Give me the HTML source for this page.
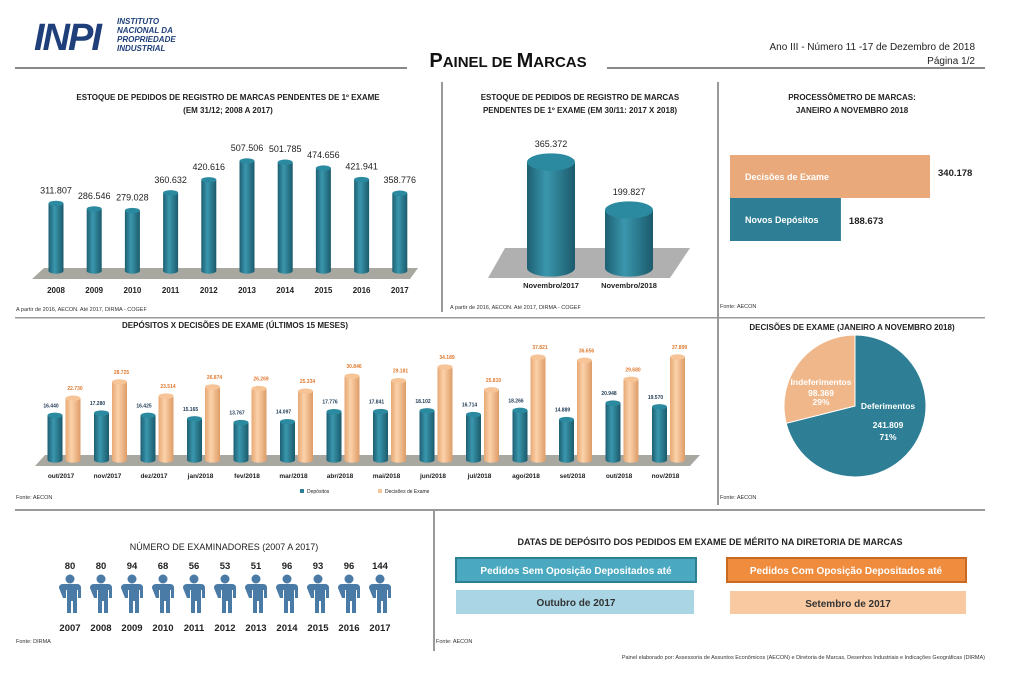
<!DOCTYPE html>
<html><head><meta charset="utf-8"><style>
body{margin:0;background:#fff;width:1024px;height:682px;overflow:hidden;font-family:"Liberation Sans",sans-serif}
svg text{font-family:"Liberation Sans",sans-serif}
</style></head><body>
<svg id="s" width="1024" height="682" viewBox="0 0 1024 682" xmlns="http://www.w3.org/2000/svg">
<defs>
<linearGradient id="gt" x1="0" x2="1"><stop offset="0" stop-color="#1d5f72"/><stop offset="0.4" stop-color="#3a97ad"/><stop offset="1" stop-color="#1b5a6c"/></linearGradient>
<linearGradient id="go" x1="0" x2="1"><stop offset="0" stop-color="#e6a874"/><stop offset="0.4" stop-color="#fcd2aa"/><stop offset="1" stop-color="#dd9c67"/></linearGradient>
</defs>
<!-- header -->
<g>
<text x="34" y="50" font-size="38" font-weight="bold" font-style="italic" fill="#1f3f7a" letter-spacing="-2">INPI</text>
<text x="117" y="24" font-size="8" font-weight="bold" font-style="italic" fill="#1f3f7a">INSTITUTO</text>
<text x="117" y="33" font-size="8" font-weight="bold" font-style="italic" fill="#1f3f7a">NACIONAL DA</text>
<text x="117" y="42" font-size="8" font-weight="bold" font-style="italic" fill="#1f3f7a">PROPRIEDADE</text>
<text x="117" y="51" font-size="8" font-weight="bold" font-style="italic" fill="#1f3f7a">INDUSTRIAL</text>
</g>
<text x="508" y="67" text-anchor="middle" font-size="20" font-weight="bold" fill="#111">P<tspan font-size="15">AINEL DE </tspan>M<tspan font-size="15">ARCAS</tspan></text>
<text x="975" y="50" text-anchor="end" font-size="10" fill="#222">Ano III - Número 11 -17 de Dezembro de 2018</text>
<text x="975" y="64" text-anchor="end" font-size="10" fill="#222">Página 1/2</text>
<rect x="15" y="67" width="392" height="2" fill="#888"/><rect x="607" y="67" width="378" height="2" fill="#888"/>
<!-- dividers -->
<g fill="#999">
<rect x="441" y="82" width="2" height="230"/><rect x="717" y="82" width="2" height="423"/>
<rect x="15" y="317" width="970" height="1.5"/><rect x="15" y="509" width="970" height="2"/>
<rect x="433" y="511" width="2" height="140"/>
</g>
<g font-size="8" font-weight="bold" fill="#222" text-anchor="middle">
<text x="228" y="100">ESTOQUE DE PEDIDOS DE REGISTRO DE MARCAS PENDENTES DE 1º EXAME</text>
<text x="228" y="113">(EM 31/12; 2008 A 2017)</text>
<text x="580" y="100">ESTOQUE DE PEDIDOS DE REGISTRO DE MARCAS</text>
<text x="580" y="113">PENDENTES DE 1º EXAME (EM 30/11: 2017 X 2018)</text>
<text x="852" y="100">PROCESSÔMETRO DE MARCAS:</text>
<text x="852" y="113">JANEIRO A NOVEMBRO 2018</text>
<text x="235" y="328">DEPÓSITOS X DECISÕES DE EXAME (ÚLTIMOS 15 MESES)</text>
<text x="852" y="330">DECISÕES DE EXAME (JANEIRO A NOVEMBRO 2018)</text>
<text x="224" y="550" font-size="9" font-weight="normal">NÚMERO DE EXAMINADORES (2007 A 2017)</text>
<text x="710" y="545" font-size="9">DATAS DE DEPÓSITO DOS PEDIDOS EM EXAME DE MÉRITO NA DIRETORIA DE MARCAS</text>
</g>
<g font-size="5.5" fill="#333">
<text x="16" y="311">A partir de 2016, AECON. Até 2017, DIRMA - COGEF</text>
<text x="450" y="309">A partir de 2016, AECON. Até 2017, DIRMA - COGEF</text>
<text x="720" y="308">Fonte: AECON</text>
<text x="16" y="499">Fonte: AECON</text>
<text x="720" y="499">Fonte: AECON</text>
<text x="16" y="643">Fonte: DIRMA</text>
<text x="436" y="643">Fonte: AECON</text>
<text x="985" y="659" text-anchor="end">Painel elaborado por: Assessoria de Assuntos Econômicos (AECON) e Diretoria de Marcas, Desenhos Industriais e Indicações Geográficas (DIRMA)</text>
</g>
<g id="c1"><polygon points="44,268 418,268 410,279 32,279" fill="#a8a8a0"/></g>
<g id="c2"><polygon points="505,248 690,248 670,278 488,278" fill="#b0b0b0"/></g>
<g id="c3"></g>
<g id="c4"><polygon points="45,455 700,455 690,466 35,466" fill="#a8a8a0"/></g>
<g id="c5"></g>
<g id="c6"></g>
<!-- date boxes -->
<g>
<rect x="456" y="558" width="240" height="24" fill="#4aa9c0" stroke="#2f7f93" stroke-width="2"/>
<text x="576" y="574" text-anchor="middle" font-size="10" font-weight="bold" fill="#fff">Pedidos Sem Oposição Depositados até</text>
<rect x="456" y="590" width="238" height="24" fill="#a9d5e4"/>
<text x="576" y="606" text-anchor="middle" font-size="10" font-weight="bold" fill="#333">Outubro de 2017</text>
<rect x="727" y="558" width="239" height="24" fill="#f08c3e" stroke="#c96a22" stroke-width="2"/>
<text x="846" y="574" text-anchor="middle" font-size="10" font-weight="bold" fill="#fff">Pedidos Com Oposição Depositados até</text>
<rect x="730" y="591" width="236" height="23" fill="#f9caa1"/>
<text x="848" y="607" text-anchor="middle" font-size="10" font-weight="bold" fill="#333">Setembro de 2017</text>
</g>
</svg>
<script>
const stockYears=["2008","2009","2010","2011","2012","2013","2014","2015","2016","2017"];
const stockValues=[311807,286546,279028,360632,420616,507506,501785,474656,421941,358776];
const stockLabels=["311.807","286.546","279.028","360.632","420.616","507.506","501.785","474.656","421.941","358.776"];
const cmpCats=["Novembro/2017","Novembro/2018"];
const cmpValues=[365372,199827];
const cmpLabels=["365.372","199.827"];
const procCats=["Decisões de Exame","Novos Depósitos"];
const procValues=[340178,188673];
const procLabels=["340.178","188.673"];
const months=["out/2017","nov/2017","dez/2017","jan/2018","fev/2018","mar/2018","abr/2018","mai/2018","jun/2018","jul/2018","ago/2018","set/2018","out/2018","nov/2018"];
const depValues=[16440,17280,16425,15165,13767,14097,17776,17841,18102,16714,18266,14889,20948,19570];
const decValues=[22730,28725,23514,26874,26269,25334,30846,29181,34189,25810,37821,36656,29680,37899];
const pieCats=["Deferimentos","Indeferimentos"];
const pieValues=[241809,98369];
const exYears=["2007","2008","2009","2010","2011","2012","2013","2014","2015","2016","2017"];
const exValues=[80,80,94,68,56,53,51,96,93,96,144];

const NS="http://www.w3.org/2000/svg";
function mk(p,tag,a){const e=document.createElementNS(NS,tag);for(const k in a)e.setAttribute(k,a[k]);p.appendChild(e);return e;}
function fmt(v){return String(v).replace(/\B(?=(\d{3})+(?!\d))/g,".");}
function cyl(p,cx,w,top,base,fill,topc,name){
  const g=mk(p,'g',{});
  
  
  const r=w/2,ry=Math.max(2,w*0.18);
  mk(g,'path',{d:`M${cx-r},${top} L${cx-r},${base} A${r},${ry} 0 0 0 ${cx+r},${base} L${cx+r},${top} Z`,fill:fill});
  mk(g,'ellipse',{cx:cx,cy:top,rx:r,ry:ry,fill:topc});
  return g;
}
// chart1
(function(){const p=document.getElementById('c1');const y=v=>271-v*110/507506;
stockValues.forEach((v,i)=>{const cx=56+i*38.2;
cyl(p,cx,15,y(v),271,'url(#gt)','#2b8aa0','stock-bar-'+stockYears[i]);
const t=mk(p,'text',{x:cx,y:y(v)-10,'text-anchor':'middle','font-size':'9',fill:'#222'});t.textContent=stockLabels[i];


const l=mk(p,'text',{x:cx,y:293,'text-anchor':'middle','font-size':'8','font-weight':'bold',fill:'#222'});l.textContent=stockYears[i];

});})();
// chart2
(function(){const p=document.getElementById('c2');const y=v=>268-v*106/365372;
cmpValues.forEach((v,i)=>{const cx=551+i*78;
cyl(p,cx,48,y(v),268,'url(#gt)','#2b8aa0','stock-bar-'+i);
const t=mk(p,'text',{x:cx,y:y(v)-15,'text-anchor':'middle','font-size':'9',fill:'#222'});t.textContent=cmpLabels[i];


const l=mk(p,'text',{x:cx,y:288,'text-anchor':'middle','font-size':'7.5','font-weight':'bold',fill:'#222'});l.textContent=cmpCats[i];

});})();
// chart3
(function(){const p=document.getElementById('c3');const w=v=>v*200/340178;const cols=['#e9a97a','#2e7f95'];
procValues.forEach((v,i)=>{const y0=155+i*43;
const r=mk(p,'rect',{x:730,y:y0,width:w(v),height:43,fill:cols[i]});


const t=mk(p,'text',{x:745,y:y0+25,'font-size':'9','font-weight':'bold',fill:'#fff'});t.textContent=procCats[i];
const l=mk(p,'text',{x:730+w(v)+8,y:y0+(i?26:21),'font-size':'9.5','font-weight':'bold',fill:'#222'});l.textContent=procLabels[i];

});})();
// chart4
(function(){const p=document.getElementById('c4');const y=v=>460-v*103/37899;
months.forEach((m,i)=>{const x=61+i*46.5;
cyl(p,x-6,15,y(depValues[i]),460,'url(#gt)','#2b8aa0','deposit-bar-'+m);
cyl(p,x+12,15,y(decValues[i]),460,'url(#go)','#f6c497','decision-bar-'+m);
const a=mk(p,'text',{x:x-10,y:y(depValues[i])-8,'text-anchor':'middle','font-size':'5','font-weight':'bold',fill:'#1f3a55'});a.textContent=fmt(depValues[i]);
const b=mk(p,'text',{x:x+14,y:y(decValues[i])-8,'text-anchor':'middle','font-size':'5','font-weight':'bold',fill:'#e07a30'});b.textContent=fmt(decValues[i]);
const l=mk(p,'text',{x:x,y:478,'text-anchor':'middle','font-size':'6.5','font-weight':'bold',fill:'#222'});l.textContent=m;

});
mk(p,'rect',{x:300,y:489,width:4,height:4,fill:'#2e7f95'});
const t1=mk(p,'text',{x:307,y:493,'font-size':'5',fill:'#222'});t1.textContent='Depósitos';
mk(p,'rect',{x:378,y:489,width:4,height:4,fill:'#f6c497'});
const t2=mk(p,'text',{x:385,y:493,'font-size':'5',fill:'#222'});t2.textContent='Decisões de Exame';})();
// pie
(function(){const p=document.getElementById('c5');const cx=855,cy=406,r=71;const tot=pieValues[0]+pieValues[1];
const cols=['#2e7f95','#f0b88a'];let a0=-Math.PI/2;
pieValues.forEach((v,i)=>{const sweep=v/tot*2*Math.PI;const a1=a0+sweep;
const x0=cx+r*Math.cos(a0),y0=cy+r*Math.sin(a0),x1=cx+r*Math.cos(a1),y1=cy+r*Math.sin(a1);
const s=mk(p,'path',{d:`M${cx},${cy} L${x0},${y0} A${r},${r} 0 ${sweep>Math.PI?1:0} 1 ${x1},${y1} Z`,fill:cols[i],stroke:'#fff','stroke-width':'1'});


a0=a1;});
const lab=[[888,409,'Deferimentos'],[888,428,fmt(pieValues[0])],[888,440,Math.round(pieValues[0]/tot*100)+'%'],[821,385,'Indeferimentos'],[821,396,fmt(pieValues[1])],[821,405,Math.round(pieValues[1]/tot*100)+'%']];
lab.forEach(l=>{const t=mk(p,'text',{x:l[0],y:l[1],'text-anchor':'middle','font-size':'8.5','font-weight':'bold',fill:'#fff'});t.textContent=l[2];});})();
// examiners
(function(){const p=document.getElementById('c6');
exValues.forEach((v,i)=>{const x=70+i*31;
const g=mk(p,'g',{fill:'#4a7ba7'});


mk(g,'circle',{cx:x,cy:579,r:4.5});
mk(g,'path',{d:`M${x-11},${588} q0,-4 4,-4 h14 q4,0 4,4 v10 h-3 v-8 h-1 v23 h-4 v-12 h-2 v12 h-4 v-23 h-1 v8 h-3 Z`});
const t=mk(p,'text',{x:x,y:569,'text-anchor':'middle','font-size':'9.5','font-weight':'bold',fill:'#222'});t.textContent=v;


const l=mk(p,'text',{x:x,y:631,'text-anchor':'middle','font-size':'9.5','font-weight':'bold',fill:'#222'});l.textContent=exYears[i];

});})();
</script>
</body></html>
